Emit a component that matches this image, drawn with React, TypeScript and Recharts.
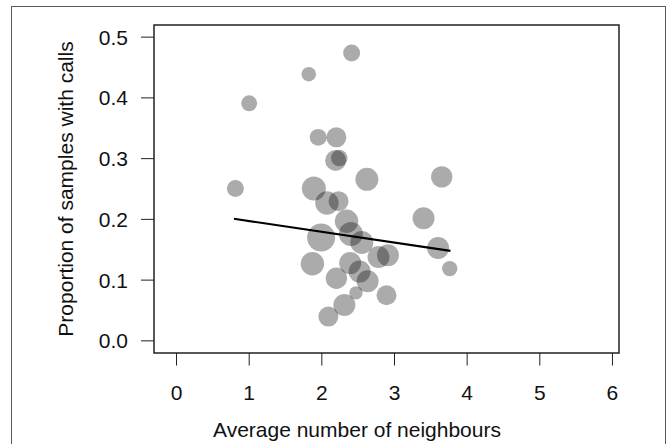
import { ScatterChart, Scatter, XAxis, YAxis, ZAxis, ReferenceArea, ReferenceLine, Label } from "recharts"

// average number of neighbours
const neighbours = [
    2.41, 1.82, 1.0, 1.95, 2.2, 2.19, 2.24, 2.62, 3.65, 0.81,
    1.89, 2.07, 2.23, 3.4, 2.34, 1.99, 2.4, 2.55, 3.6, 3.76,
    1.87, 2.39, 2.52, 2.78, 2.91, 2.2, 2.63, 2.47, 2.89, 2.31, 2.09,
]

// proportion of samples with calls
const proportion = [
    0.474, 0.439, 0.391, 0.335, 0.335, 0.297, 0.301, 0.266, 0.27, 0.251,
    0.251, 0.227, 0.23, 0.202, 0.197, 0.17, 0.176, 0.162, 0.153, 0.119,
    0.127, 0.128, 0.114, 0.138, 0.141, 0.103, 0.098, 0.079, 0.075, 0.059, 0.04,
]

// bubble weight (drawn as area)
const weight = [
    72, 53, 64, 72, 100, 110, 69, 132, 114, 72,
    144, 137, 100, 121, 137, 196, 144, 132, 121, 59,
    137, 121, 121, 121, 121, 114, 121, 45, 100, 121, 100,
]

const fitLine = [
    { x: 0.79, y: 0.201 },
    { x: 3.77, y: 0.148 },
]

const xTicks = [0, 1, 2, 3, 4, 5, 6]
const yTicks = [0, 0.1, 0.2, 0.3, 0.4, 0.5]

const xDomain: [number, number] = [-0.31, 6.09]
const yDomain: [number, number] = [-0.02, 0.52]

const points = neighbours.map((x, i) => ({ x, y: proportion[i], z: weight[i] }))

const FONT = "'Liberation Sans', Arial, sans-serif"

const App = () => {
    return (
        <div style={{ position: "absolute", left: 0, top: 0, width: 670, height: 444, overflow: "hidden", background: "#fff" }}>
            <div
                style={{
                    position: "absolute",
                    left: 11,
                    top: 6,
                    width: 655,
                    height: 460,
                    border: "1.5px solid #5a5a5a",
                    boxSizing: "border-box",
                }}
            />
            <ScatterChart
                width={670}
                height={444}
                margin={{ top: 25, right: 51, left: 0, bottom: 0 }}
                style={{ position: "absolute", left: 0, top: 0, fontFamily: FONT }}
            >
                <XAxis
                    type="number"
                    dataKey="x"
                    domain={xDomain}
                    ticks={xTicks}
                    allowDataOverflow
                    height={91}
                    axisLine={false}
                    tickLine={{ stroke: "#222", strokeWidth: 1 }}
                    tickSize={12.5}
                    tickMargin={19.5}
                    tick={{ fill: "#111", fontSize: 21 }}
                >
                    <Label
                        content={() => (
                            <text x={357} y={437} textAnchor="middle" fill="#111" fontSize={21} fontFamily={FONT}>
                                Average number of neighbours
                            </text>
                        )}
                    />
                </XAxis>
                <YAxis
                    type="number"
                    dataKey="y"
                    domain={yDomain}
                    ticks={yTicks}
                    allowDataOverflow
                    width={154}
                    axisLine={false}
                    tickLine={{ stroke: "#222", strokeWidth: 1 }}
                    tickSize={13}
                    tickMargin={13}
                    tickFormatter={(v: number) => v.toFixed(1)}
                    tick={{ fill: "#111", fontSize: 21 }}
                >
                    <Label
                        content={() => (
                            <text
                                x={65}
                                y={189}
                                transform="rotate(-90 65 189)"
                                textAnchor="middle"
                                dominantBaseline="central"
                                fill="#111"
                                fontSize={21}
                                fontFamily={FONT}
                            >
                                Proportion of samples with calls
                            </text>
                        )}
                    />
                </YAxis>
                <ZAxis type="number" dataKey="z" domain={[0, 196]} range={[0, 196 * Math.PI]} />
                <ReferenceArea
                    x1={xDomain[0]}
                    x2={xDomain[1]}
                    y1={yDomain[0]}
                    y2={yDomain[1]}
                    fill="none"
                    stroke="#222"
                    strokeWidth={1.5}
                />
                <Scatter data={points} fill="#000" fillOpacity={0.33} isAnimationActive={false} />
                <ReferenceLine segment={fitLine} stroke="#000" strokeWidth={2.2} />
            </ScatterChart>
        </div>
    )
}

export default App
